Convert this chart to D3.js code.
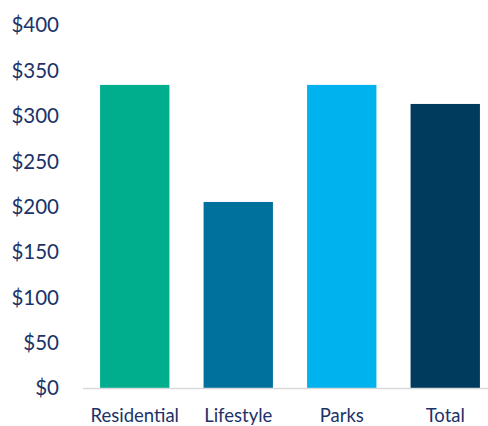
<!DOCTYPE html>
<html><head><meta charset="utf-8">
<script src="https://cdn.jsdelivr.net/npm/d3@7"></script>
<style>body{margin:0;background:#fff}svg{display:block}</style>
</head><body>
<script>
const categories = ["Residential", "Lifestyle", "Parks", "Total"];
const values = [334, 205, 334, 313];
const colors = ["#00AE8E", "#00709C", "#00B2EE", "#003A5C"];
const yTicks = [0, 50, 100, 150, 200, 250, 300, 350, 400];

const W = 488, H = 426;
const svg = d3.select("body").append("svg").attr("width", W).attr("height", H);
const x = d3.scaleBand().domain(categories).range([83, 497]).paddingInner(0.33).paddingOuter(0.165);
const y = d3.scaleLinear().domain([0, 400]).range([388, 25]);
const textColor = "#1C3268";
const font = "Lato, 'Open Sans', sans-serif";

svg.selectAll("rect.bar").data(values).join("rect").attr("class", "bar")
  .attr("x", (d, i) => x(categories[i]))
  .attr("width", x.bandwidth())
  .attr("y", d => y(d))
  .attr("height", d => y(0) - y(d))
  .attr("fill", (d, i) => colors[i]);

svg.append("line").attr("x1", 83).attr("x2", W).attr("y1", y(0) + 0.5).attr("y2", y(0) + 0.5)
  .attr("stroke", "#D9D9D9").attr("stroke-width", 1.5);

svg.selectAll("text.yl").data(yTicks).join("text").attr("class", "yl")
  .attr("x", 59).attr("y", d => y(d)).attr("dy", "0.36em")
  .attr("text-anchor", "end").attr("font-family", font).attr("font-size", 20.5)
  .attr("fill", textColor).text(d => "$" + d);

svg.selectAll("text.xl").data(categories).join("text").attr("class", "xl")
  .attr("x", d => x(d) + x.bandwidth() / 2).attr("y", 415).attr("dy", "0.36em")
  .attr("text-anchor", "middle").attr("font-family", font).attr("font-size", 18.5)
  .attr("fill", textColor).text(d => d);
</script>
</body></html>
